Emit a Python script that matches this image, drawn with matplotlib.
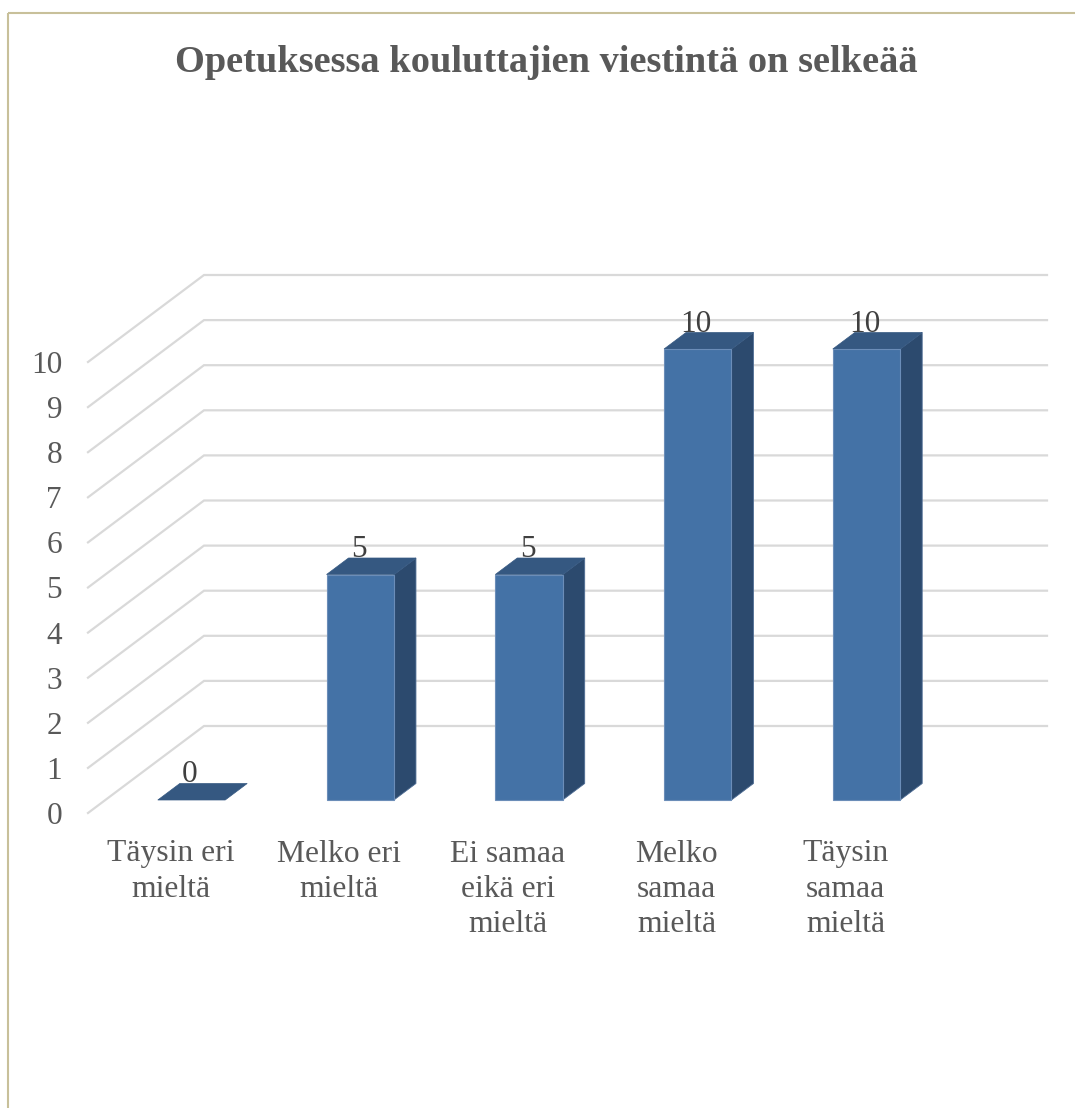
import matplotlib
matplotlib.use('Agg')
import matplotlib.pyplot as plt

plt.rcParams['font.family'] = ['Liberation Serif', 'DejaVu Serif']

title = 'Opetuksessa kouluttajien viestintä on selkeää'
categories = ['Täysin eri\nmieltä', 'Melko eri\nmieltä', 'Ei samaa\neikä eri\nmieltä',
              'Melko\nsamaa\nmieltä', 'Täysin\nsamaa\nmieltä']
values = [0, 5, 5, 10, 10]
y_ticks = [0, 1, 2, 3, 4, 5, 6, 7, 8, 9, 10]

W, H = 1075, 1108
# pixel scale of the chart
px_x = 168.75     # one category
px_y = 45.1       # one unit
x0_px = 191.5     # centre of first bar front
y0_px = 800.0     # value 0 on the bar front plane

fig = plt.figure(figsize=(W / 100, H / 100), dpi=100, facecolor='white')
ax = fig.add_axes([0, 0, 1, 1])
ax.set_xlim((0 - x0_px) / px_x, (W - x0_px) / px_x)
ax.set_ylim((y0_px - H) / px_y, y0_px / px_y)
ax.axis('off')


def dx(p):
    return p / px_x


def dy(p):
    return p / px_y


# depth of the bars
depth_x = dx(22)
depth_y = dy(16.5)
half = dx(33.7)

# frame, only top and left are drawn
ax.plot([dx(8) + ax.get_xlim()[0]] * 2, [ax.get_ylim()[0], dy(y0_px - 13)], color='#c8c09a', lw=1.5,
        solid_capstyle='butt', zorder=1)
ax.plot([dx(8) + ax.get_xlim()[0], ax.get_xlim()[1]], [dy(y0_px - 13)] * 2, color='#c8c09a', lw=1.5,
        solid_capstyle='butt', zorder=1)

# floor/wall gridlines
front_x = (88 - x0_px) / px_x
back_x = (204 - x0_px) / px_x
right_x = (1047 - x0_px) / px_x
front_off = dy(y0_px - 813)
back_off = dy(y0_px - 726)
for v in y_ticks:
    ax.plot([front_x, back_x, right_x], [v + front_off, v + back_off, v + back_off],
            color='#d9d9d9', lw=1.6, solid_joinstyle='miter', zorder=2)
    ax.text(dx(62 - x0_px), v + front_off, str(v), ha='right', va='center_baseline',
            fontsize=22.5, color='#595959', zorder=6)

# bars
for i, v in enumerate(values):
    left = i - half
    right = i + half
    if v > 0:
        ax.bar(i, v, width=2 * half, color='#4472a6', edgecolor='#6b8db8', linewidth=0.8, zorder=4)
        ax.fill([right, right + depth_x, right + depth_x, right],
                [0, depth_y, v + depth_y, v],
                facecolor='#2c4a6e', edgecolor='#4f6d94', linewidth=0.6, zorder=3)
    ax.fill([left, right, right + depth_x, left + depth_x],
            [v, v, v + depth_y, v + depth_y],
            facecolor='#355881', edgecolor='#355881', linewidth=0.5, zorder=3.5)
    ax.text(i - dx(1.5), v + depth_y + dy(1), str(v), ha='center', va='baseline',
            fontsize=22.5, color='#404040', zorder=7)

# category labels
for i, c in enumerate(categories):
    ax.text(i - dx(21), dy(y0_px - 839.5), c, ha='center', va='top', fontsize=22.8,
            color='#595959', linespacing=1.28, zorder=6)

ax.text(dx(546 - x0_px), dy(y0_px - 62), title, ha='center', va='center', fontsize=27.6,
        fontweight='bold', color='#595959', zorder=6)

fig.savefig('out.png', dpi=100, facecolor='white')
